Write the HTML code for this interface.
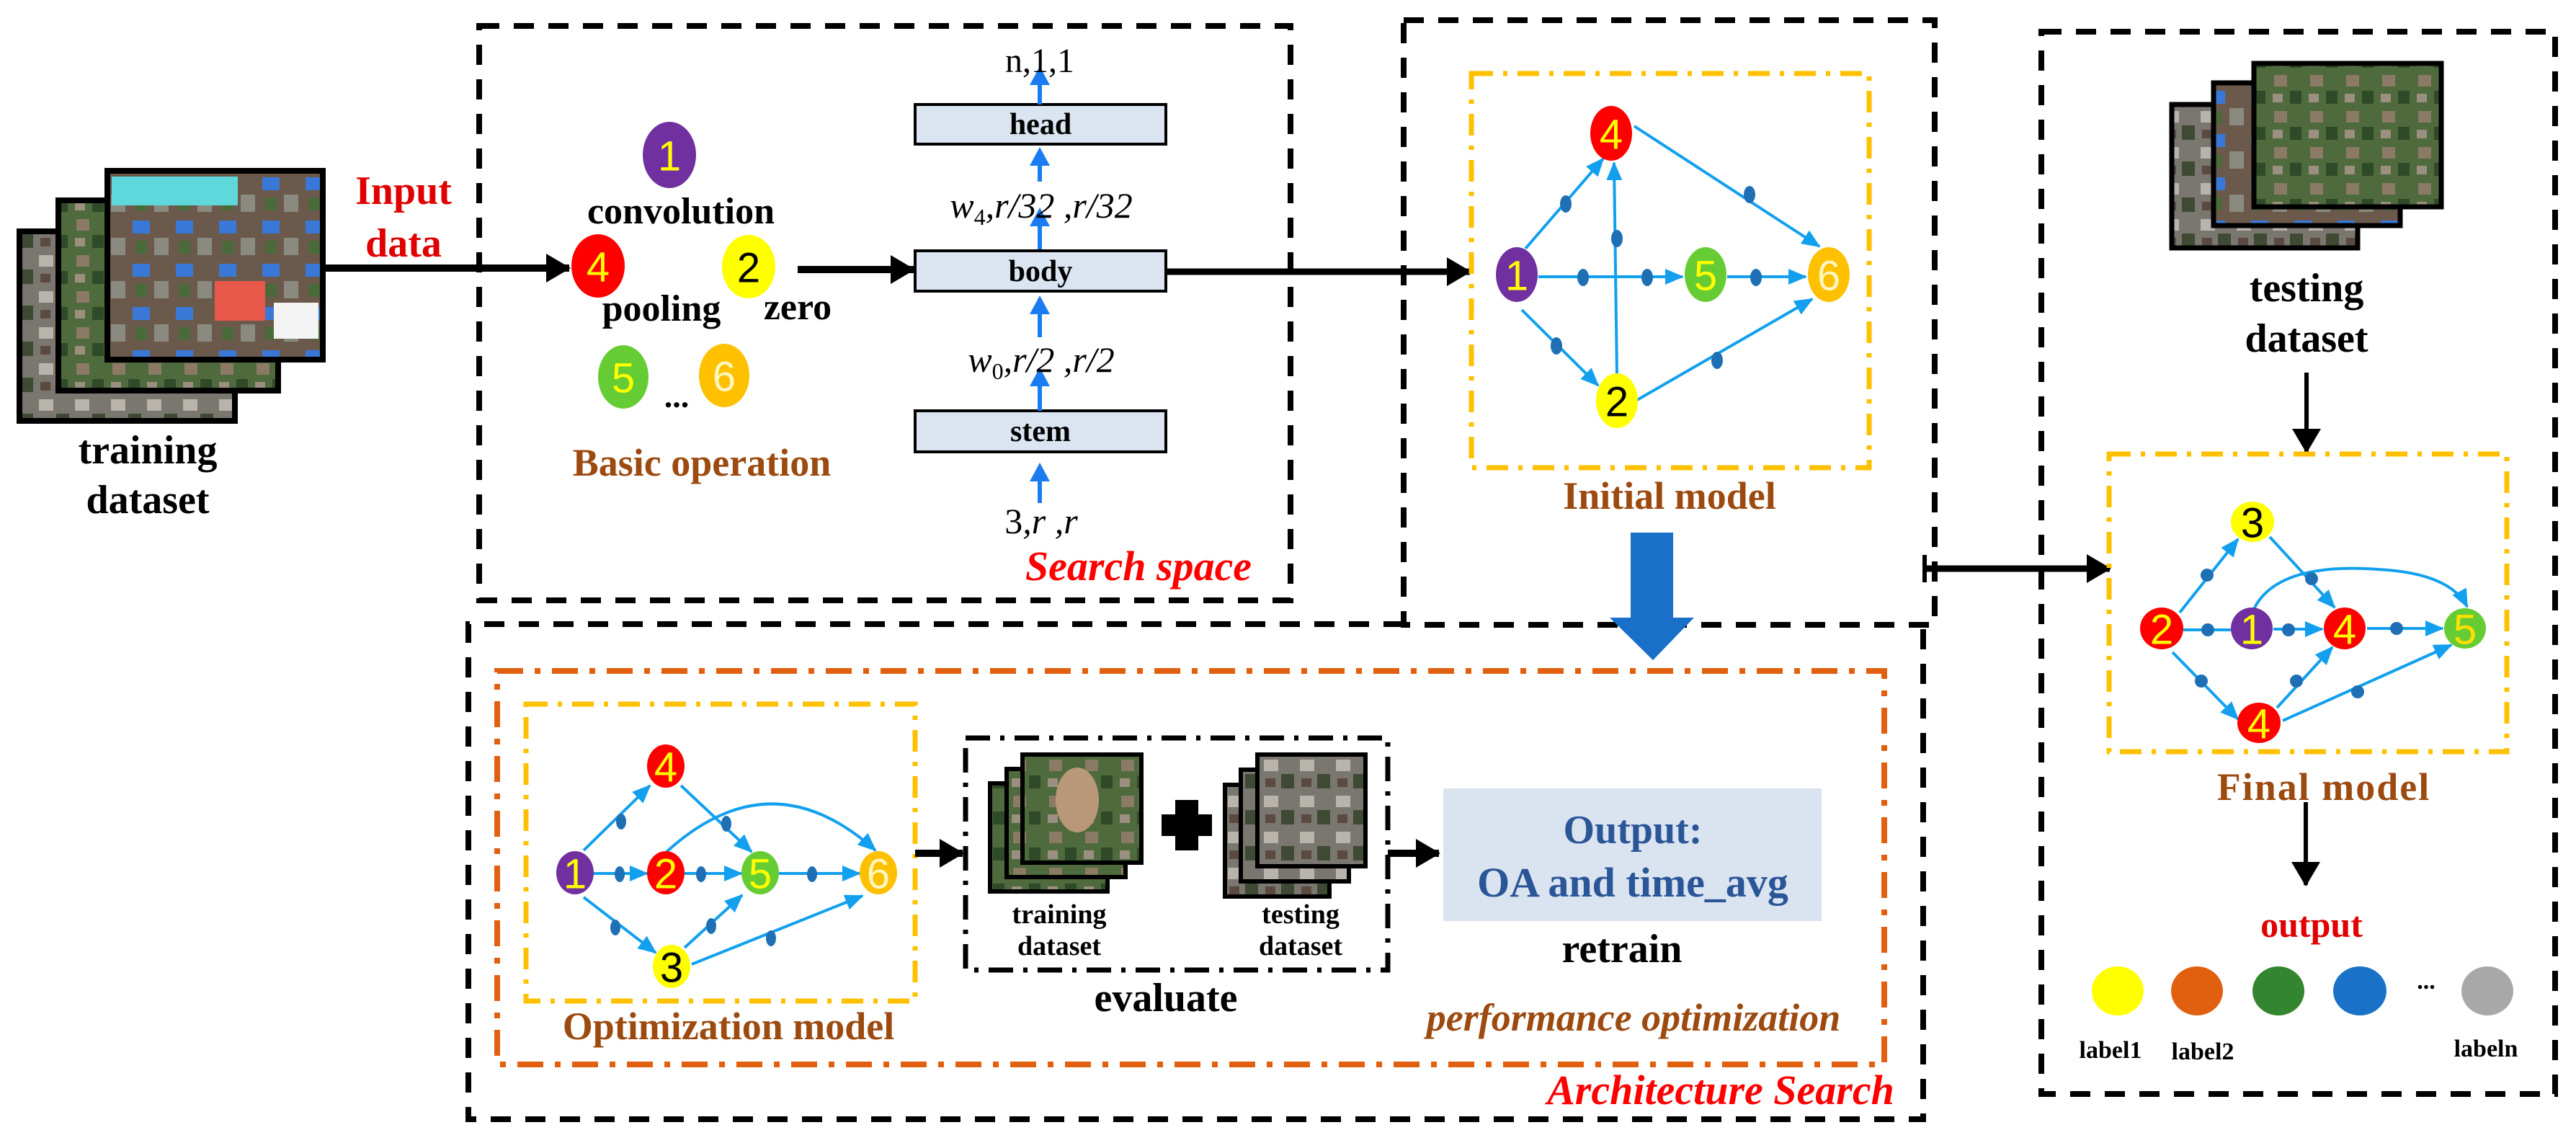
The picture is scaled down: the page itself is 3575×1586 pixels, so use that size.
<!DOCTYPE html>
<html><head><meta charset="utf-8"><style>
html,body{margin:0;padding:0;background:#fff}
svg{display:block}
text{font-family:"Liberation Serif",serif}
.b{font-weight:bold}
.n{font-family:"Liberation Sans",sans-serif;font-size:58px;text-anchor:middle;dominant-baseline:central}
</style></head><body>
<svg width="3575" height="1586" viewBox="0 0 3575 1586" xmlns="http://www.w3.org/2000/svg">
<defs>
<marker id="ba" markerUnits="userSpaceOnUse" markerWidth="26" markerHeight="22" refX="24" refY="11" orient="auto"><path d="M0,0 L26,11 L0,22 z" fill="#12a0ee"/></marker>
<marker id="ka" markerUnits="userSpaceOnUse" markerWidth="34" markerHeight="40" refX="32" refY="20" orient="auto"><path d="M0,0 L34,20 L0,40 z" fill="#000"/></marker>
<pattern id="sat1" width="60" height="60" patternUnits="userSpaceOnUse"><rect width="60" height="60" fill="#6b5a4c"/><rect x="4" y="6" width="24" height="18" fill="#3a78d8"/><rect x="34" y="30" width="20" height="24" fill="#8a8a80"/><rect x="8" y="34" width="16" height="18" fill="#4b6a3a"/></pattern>
<pattern id="sat2" width="50" height="50" patternUnits="userSpaceOnUse"><rect width="50" height="50" fill="#4f6a3c"/><rect x="6" y="4" width="18" height="16" fill="#8a7a66"/><rect x="28" y="26" width="16" height="18" fill="#2f4a28"/><rect x="4" y="30" width="14" height="12" fill="#9a8f80"/></pattern>
<pattern id="sat3" width="50" height="50" patternUnits="userSpaceOnUse"><rect width="50" height="50" fill="#7a7670"/><rect x="4" y="4" width="20" height="16" fill="#b8b4ac"/><rect x="28" y="24" width="18" height="20" fill="#3f4a34"/><rect x="6" y="30" width="14" height="12" fill="#5a4a40"/></pattern>
</defs>

<!-- training dataset images -->
<rect x="27" y="321" width="299" height="263" fill="url(#sat3)" stroke="#000" stroke-width="8"/>
<rect x="81" y="278" width="305" height="264" fill="url(#sat2)" stroke="#000" stroke-width="8"/>
<rect x="149" y="237" width="299" height="262" fill="url(#sat1)" stroke="#000" stroke-width="8"/>
<rect x="155" y="245" width="175" height="40" fill="#5fd8dc"/>
<rect x="298" y="390" width="70" height="55" fill="#e8584a"/>
<rect x="380" y="420" width="62" height="50" fill="#f4f4f4"/>
<text x="205" y="643" font-size="56" class="b" text-anchor="middle">training</text>
<text x="205" y="712" font-size="56" class="b" text-anchor="middle">dataset</text>
<text x="560" y="283" font-size="56" class="b" text-anchor="middle" fill="#e00000">Input</text>
<text x="560" y="356" font-size="56" class="b" text-anchor="middle" fill="#e00000">data</text>
<line x1="448" y1="372" x2="790" y2="372" stroke="#000" stroke-width="10" marker-end="url(#ka)"/>

<!-- Search space box -->
<rect x="665" y="36" width="1126" height="797" fill="none" stroke="#000" stroke-width="8" stroke-dasharray="28,20"/>
<ellipse cx="929" cy="215" rx="37" ry="46" fill="#7030a0"/><text x="929" y="217" class="n" fill="#ffff00">1</text>
<text x="945" y="310" font-size="52" class="b" text-anchor="middle">convolution</text>
<ellipse cx="830" cy="369" rx="37" ry="44" fill="#ff0000"/><text x="830" y="371" class="n" fill="#ffff00">4</text>
<ellipse cx="1039" cy="370" rx="37" ry="44" fill="#ffff00"/><text x="1039" y="372" class="n" fill="#000">2</text>
<text x="918" y="445" font-size="52" class="b" text-anchor="middle">pooling</text>
<text x="1107" y="443" font-size="52" class="b" text-anchor="middle">zero</text>
<ellipse cx="865" cy="523" rx="35" ry="44" fill="#66cc33"/><text x="865" y="525" class="n" fill="#ffff00">5</text>
<ellipse cx="1005" cy="521" rx="35" ry="44" fill="#ffc000"/><text x="1005" y="523" class="n" fill="#fff6c0">6</text>
<text x="939" y="565" font-size="46" class="b" text-anchor="middle">...</text>
<text x="974" y="660" font-size="54" class="b" text-anchor="middle" fill="#9c4a10">Basic operation</text>
<line x1="1107" y1="374" x2="1268" y2="374" stroke="#000" stroke-width="10" marker-end="url(#ka)"/>

<rect x="1270" y="145" width="348" height="55" fill="#dbe5f1" stroke="#000" stroke-width="4"/>
<rect x="1270" y="348" width="348" height="56" fill="#dbe5f1" stroke="#000" stroke-width="4"/>
<rect x="1270" y="570" width="348" height="57" fill="#dbe5f1" stroke="#000" stroke-width="4"/>
<text x="1444" y="186" font-size="42" class="b" text-anchor="middle">head</text>
<text x="1444" y="390" font-size="42" class="b" text-anchor="middle">body</text>
<text x="1444" y="612" font-size="42" class="b" text-anchor="middle">stem</text>
<g stroke="#1a7cf0" stroke-width="6" fill="none">
<line x1="1443" y1="145" x2="1443" y2="100"/><line x1="1443" y1="252" x2="1443" y2="212"/>
<line x1="1443" y1="346" x2="1443" y2="298"/><line x1="1443" y1="468" x2="1443" y2="418"/>
<line x1="1443" y1="570" x2="1443" y2="520"/><line x1="1443" y1="698" x2="1443" y2="650"/>
</g>
<g fill="#1a7cf0">
<path d="M1429,118 L1443,92 L1457,118z"/><path d="M1429,230 L1443,204 L1457,230z"/>
<path d="M1429,314 L1443,288 L1457,314z"/><path d="M1429,436 L1443,410 L1457,436z"/>
<path d="M1429,536 L1443,510 L1457,536z"/><path d="M1429,668 L1443,642 L1457,668z"/>
</g>
<text x="1443" y="100" font-size="48" text-anchor="middle">n,1,1</text>
<text x="1445" y="302" font-size="50" font-style="italic" text-anchor="middle">w<tspan font-size="32" dy="10" font-style="normal">4</tspan><tspan dy="-10">,r/32 ,r/32</tspan></text>
<text x="1445" y="516" font-size="50" font-style="italic" text-anchor="middle">w<tspan font-size="32" dy="10" font-style="normal">0</tspan><tspan dy="-10">,r/2 ,r/2</tspan></text>
<text x="1445" y="740" font-size="50" font-style="italic" text-anchor="middle"><tspan font-style="normal">3</tspan>,r ,r</text>
<text x="1580" y="805" font-size="58" class="b" font-style="italic" text-anchor="middle" fill="#ff0000">Search space</text>
<line x1="1618" y1="377" x2="2040" y2="377" stroke="#000" stroke-width="9" marker-end="url(#ka)"/>

<!-- Initial model box -->
<path d="M1948,28 L2685,28 L2685,867 L1948,867 z" fill="none" stroke="#000" stroke-width="8" stroke-dasharray="28,20"/>
<rect x="2042" y="102" width="552" height="547" fill="none" stroke="#ffc000" stroke-width="7" stroke-dasharray="30,14,6,14"/>
<g stroke="#12a0ee" stroke-width="4" fill="none">
<line x1="2117" y1="345" x2="2225" y2="220" marker-end="url(#ba)"/>
<line x1="2244" y1="520" x2="2240" y2="226" marker-end="url(#ba)"/>
<line x1="2135" y1="384" x2="2335" y2="384" marker-end="url(#ba)"/>
<line x1="2397" y1="384" x2="2506" y2="384" marker-end="url(#ba)"/>
<line x1="2268" y1="175" x2="2525" y2="342" marker-end="url(#ba)"/>
<line x1="2112" y1="430" x2="2218" y2="535" marker-end="url(#ba)"/>
<line x1="2272" y1="555" x2="2515" y2="415" marker-end="url(#ba)"/>
</g>
<g fill="#1f6fb4">
<ellipse cx="2173" cy="283" rx="8" ry="12"/><ellipse cx="2244" cy="331" rx="8" ry="12"/>
<ellipse cx="2197" cy="385" rx="8" ry="12"/><ellipse cx="2286" cy="385" rx="8" ry="12"/>
<ellipse cx="2437" cy="385" rx="8" ry="12"/><ellipse cx="2428" cy="270" rx="8" ry="12"/>
<ellipse cx="2160" cy="480" rx="8" ry="12"/><ellipse cx="2383" cy="500" rx="8" ry="12"/>
</g>
<ellipse cx="2236" cy="185" rx="29" ry="38" fill="#ff0000"/><text x="2236" y="187" class="n" fill="#ffff00">4</text>
<ellipse cx="2105" cy="381" rx="29" ry="38" fill="#7030a0"/><text x="2105" y="383" class="n" fill="#ffff00">1</text>
<ellipse cx="2367" cy="381" rx="29" ry="38" fill="#66cc33"/><text x="2367" y="383" class="n" fill="#ffff00">5</text>
<ellipse cx="2538" cy="381" rx="29" ry="38" fill="#ffc000"/><text x="2538" y="383" class="n" fill="#fff6c0">6</text>
<ellipse cx="2244" cy="556" rx="29" ry="38" fill="#ffff00"/><text x="2244" y="558" class="n" fill="#000">2</text>
<text x="2317" y="706" font-size="54" class="b" text-anchor="middle" fill="#9c4a10">Initial model</text>
<rect x="2263" y="739" width="59" height="120" fill="#1a6fc8"/>
<path d="M2234,857 L2351,857 L2294,916 z" fill="#1a6fc8"/>

<!-- Architecture search box -->
<path d="M1948,866 L650,866 L650,1553 L2669,1553 L2669,866" fill="none" stroke="#000" stroke-width="8" stroke-dasharray="28,20"/>
<rect x="690" y="931" width="1925" height="546" fill="none" stroke="#e06010" stroke-width="8" stroke-dasharray="36,16,8,16"/>
<rect x="730" y="977" width="540" height="412" fill="none" stroke="#ffc000" stroke-width="7" stroke-dasharray="30,14,6,14"/>
<g stroke="#12a0ee" stroke-width="4" fill="none">
<line x1="810" y1="1180" x2="902" y2="1090" marker-end="url(#ba)"/>
<line x1="945" y1="1090" x2="1043" y2="1182" marker-end="url(#ba)"/>
<line x1="824" y1="1212" x2="898" y2="1212" marker-end="url(#ba)"/>
<line x1="950" y1="1212" x2="1029" y2="1212" marker-end="url(#ba)"/>
<line x1="1081" y1="1212" x2="1193" y2="1212" marker-end="url(#ba)"/>
<path d="M925,1182 Q1070,1050 1215,1180" marker-end="url(#ba)"/>
<line x1="810" y1="1245" x2="910" y2="1322" marker-end="url(#ba)"/>
<line x1="950" y1="1315" x2="1030" y2="1242" marker-end="url(#ba)"/>
<line x1="960" y1="1338" x2="1197" y2="1243" marker-end="url(#ba)"/>
</g>
<g fill="#1f6fb4">
<ellipse cx="862" cy="1140" rx="7" ry="11"/><ellipse cx="1008" cy="1143" rx="7" ry="11"/>
<ellipse cx="860" cy="1213" rx="7" ry="11"/><ellipse cx="973" cy="1213" rx="7" ry="11"/>
<ellipse cx="1127" cy="1213" rx="7" ry="11"/><ellipse cx="854" cy="1287" rx="7" ry="11"/>
<ellipse cx="987" cy="1285" rx="7" ry="11"/><ellipse cx="1070" cy="1302" rx="7" ry="11"/>
</g>
<ellipse cx="798" cy="1211" rx="26" ry="30" fill="#7030a0"/><text x="798" y="1213" class="n" font-size="50" fill="#ffff00">1</text>
<ellipse cx="924" cy="1211" rx="26" ry="30" fill="#ff0000"/><text x="924" y="1213" class="n" font-size="50" fill="#ffff00">2</text>
<ellipse cx="1055" cy="1211" rx="26" ry="30" fill="#66cc33"/><text x="1055" y="1213" class="n" font-size="50" fill="#ffff00">5</text>
<ellipse cx="1219" cy="1211" rx="26" ry="30" fill="#ffc000"/><text x="1219" y="1213" class="n" font-size="50" fill="#fff6c0">6</text>
<ellipse cx="924" cy="1063" rx="26" ry="30" fill="#ff0000"/><text x="924" y="1065" class="n" font-size="50" fill="#ffff00">4</text>
<ellipse cx="932" cy="1341" rx="26" ry="30" fill="#ffff00"/><text x="932" y="1343" class="n" font-size="50" fill="#000">3</text>
<text x="1011" y="1442" font-size="54" class="b" text-anchor="middle" fill="#9c4a10">Optimization model</text>
<line x1="1270" y1="1184" x2="1336" y2="1184" stroke="#000" stroke-width="10" marker-end="url(#ka)"/>

<rect x="1340" y="1024" width="586" height="322" fill="none" stroke="#000" stroke-width="7" stroke-dasharray="34,14,6,14"/>
<rect x="1374" y="1087" width="163" height="150" fill="url(#sat2)" stroke="#000" stroke-width="6"/>
<rect x="1397" y="1067" width="165" height="150" fill="url(#sat2)" stroke="#000" stroke-width="6"/>
<rect x="1419" y="1047" width="165" height="150" fill="url(#sat2)" stroke="#000" stroke-width="6"/>
<ellipse cx="1495" cy="1110" rx="30" ry="45" fill="#b89878"/>
<rect x="1631" y="1110" width="32" height="70" fill="#000"/><rect x="1612" y="1130" width="70" height="30" fill="#000"/>
<rect x="1700" y="1089" width="145" height="155" fill="url(#sat3)" stroke="#000" stroke-width="6"/>
<rect x="1722" y="1068" width="150" height="155" fill="url(#sat3)" stroke="#000" stroke-width="6"/>
<rect x="1745" y="1047" width="150" height="155" fill="url(#sat3)" stroke="#000" stroke-width="6"/>
<text x="1470" y="1281" font-size="38" class="b" text-anchor="middle">training</text>
<text x="1470" y="1325" font-size="38" class="b" text-anchor="middle">dataset</text>
<text x="1805" y="1281" font-size="38" class="b" text-anchor="middle">testing</text>
<text x="1805" y="1325" font-size="38" class="b" text-anchor="middle">dataset</text>
<text x="1618" y="1403" font-size="56" class="b" text-anchor="middle">evaluate</text>
<line x1="1926" y1="1184" x2="1997" y2="1184" stroke="#000" stroke-width="10" marker-end="url(#ka)"/>
<rect x="2003" y="1094" width="525" height="184" fill="#dae3f0"/>
<text x="2266" y="1170" font-size="56" class="b" text-anchor="middle" fill="#2a5597">Output:</text>
<text x="2266" y="1244" font-size="58" class="b" text-anchor="middle" fill="#2a5597">OA and time_avg</text>
<text x="2251" y="1335" font-size="56" class="b" text-anchor="middle">retrain</text>
<text x="2267" y="1430" font-size="54" class="b" font-style="italic" text-anchor="middle" fill="#9c4a10">performance  optimization</text>
<text x="2388" y="1532" font-size="58" class="b" font-style="italic" text-anchor="middle" fill="#ff0000">Architecture Search</text>

<!-- right box -->
<line x1="2671" y1="770" x2="2671" y2="808" stroke="#000" stroke-width="6"/>
<line x1="2671" y1="789" x2="2928" y2="789" stroke="#000" stroke-width="9" marker-end="url(#ka)"/>
<rect x="2833" y="44" width="713" height="1474" fill="none" stroke="#000" stroke-width="8" stroke-dasharray="28,20"/>
<rect x="3014" y="145" width="258" height="199" fill="url(#sat3)" stroke="#000" stroke-width="7"/>
<rect x="3072" y="115" width="259" height="198" fill="url(#sat1)" stroke="#000" stroke-width="7"/>
<rect x="3128" y="88" width="260" height="199" fill="url(#sat2)" stroke="#000" stroke-width="7"/>
<text x="3201" y="418" font-size="56" class="b" text-anchor="middle">testing</text>
<text x="3201" y="488" font-size="56" class="b" text-anchor="middle">dataset</text>
<line x1="3201" y1="517" x2="3201" y2="627" stroke="#000" stroke-width="6" marker-end="url(#ka)"/>
<rect x="2927" y="630" width="552" height="413" fill="none" stroke="#ffc000" stroke-width="7" stroke-dasharray="30,14,6,14"/>
<g stroke="#12a0ee" stroke-width="4" fill="none">
<line x1="3025" y1="850" x2="3106" y2="748" marker-end="url(#ba)"/>
<line x1="3150" y1="745" x2="3240" y2="843" marker-end="url(#ba)"/>
<line x1="3030" y1="874" x2="3096" y2="874"/>
<line x1="3155" y1="873" x2="3223" y2="873" marker-end="url(#ba)"/>
<line x1="3285" y1="872" x2="3390" y2="872" marker-end="url(#ba)"/>
<path d="M3128,845 Q3160,780 3300,790 Q3400,795 3424,842" marker-end="url(#ba)"/>
<line x1="3015" y1="905" x2="3106" y2="998" marker-end="url(#ba)"/>
<line x1="3160" y1="982" x2="3237" y2="898" marker-end="url(#ba)"/>
<line x1="3168" y1="1000" x2="3402" y2="895" marker-end="url(#ba)"/>
</g>
<g fill="#1f6fb4">
<ellipse cx="3063" cy="798" rx="9" ry="9"/><ellipse cx="3208" cy="803" rx="9" ry="9"/>
<ellipse cx="3064" cy="874" rx="9" ry="9"/><ellipse cx="3176" cy="874" rx="9" ry="9"/>
<ellipse cx="3326" cy="872" rx="9" ry="9"/><ellipse cx="3055" cy="945" rx="9" ry="9"/>
<ellipse cx="3187" cy="945" rx="9" ry="9"/><ellipse cx="3272" cy="960" rx="9" ry="9"/>
</g>
<ellipse cx="3126" cy="724" rx="30" ry="28" fill="#ffff00"/><text x="3126" y="726" class="n" font-size="50" fill="#000">3</text>
<ellipse cx="3000" cy="872" rx="30" ry="29" fill="#ff0000"/><text x="3000" y="874" class="n" font-size="50" fill="#ffff00">2</text>
<ellipse cx="3125" cy="872" rx="29" ry="29" fill="#7030a0"/><text x="3125" y="874" class="n" font-size="50" fill="#ffff00">1</text>
<ellipse cx="3254" cy="872" rx="29" ry="29" fill="#ff0000"/><text x="3254" y="874" class="n" font-size="50" fill="#ffff00">4</text>
<ellipse cx="3421" cy="872" rx="29" ry="28" fill="#66cc33"/><text x="3421" y="874" class="n" font-size="50" fill="#ffe000">5</text>
<ellipse cx="3135" cy="1003" rx="30" ry="28" fill="#ff0000"/><text x="3135" y="1005" class="n" font-size="50" fill="#ffff00">4</text>
<text x="3225" y="1110" font-size="54" class="b" text-anchor="middle" fill="#9c4a10" letter-spacing="2">Final  model</text>
<line x1="3200" y1="1113" x2="3200" y2="1228" stroke="#000" stroke-width="6" marker-end="url(#ka)"/>
<text x="3208" y="1300" font-size="50" class="b" text-anchor="middle" fill="#e00000">output</text>
<ellipse cx="2939" cy="1375" rx="36" ry="34" fill="#ffff00"/>
<ellipse cx="3049" cy="1375" rx="36" ry="34" fill="#e06010"/>
<ellipse cx="3162" cy="1375" rx="36" ry="34" fill="#33862f"/>
<ellipse cx="3275" cy="1375" rx="37" ry="34" fill="#1a72c8"/>
<text x="3367" y="1372" font-size="34" class="b" text-anchor="middle">...</text>
<ellipse cx="3452" cy="1375" rx="36" ry="34" fill="#a8a8a8"/>
<text x="2929" y="1468" font-size="34" class="b" text-anchor="middle">label1</text>
<text x="3057" y="1470" font-size="34" class="b" text-anchor="middle">label2</text>
<text x="3450" y="1466" font-size="34" class="b" text-anchor="middle">labeln</text>
</svg>
</body></html>
